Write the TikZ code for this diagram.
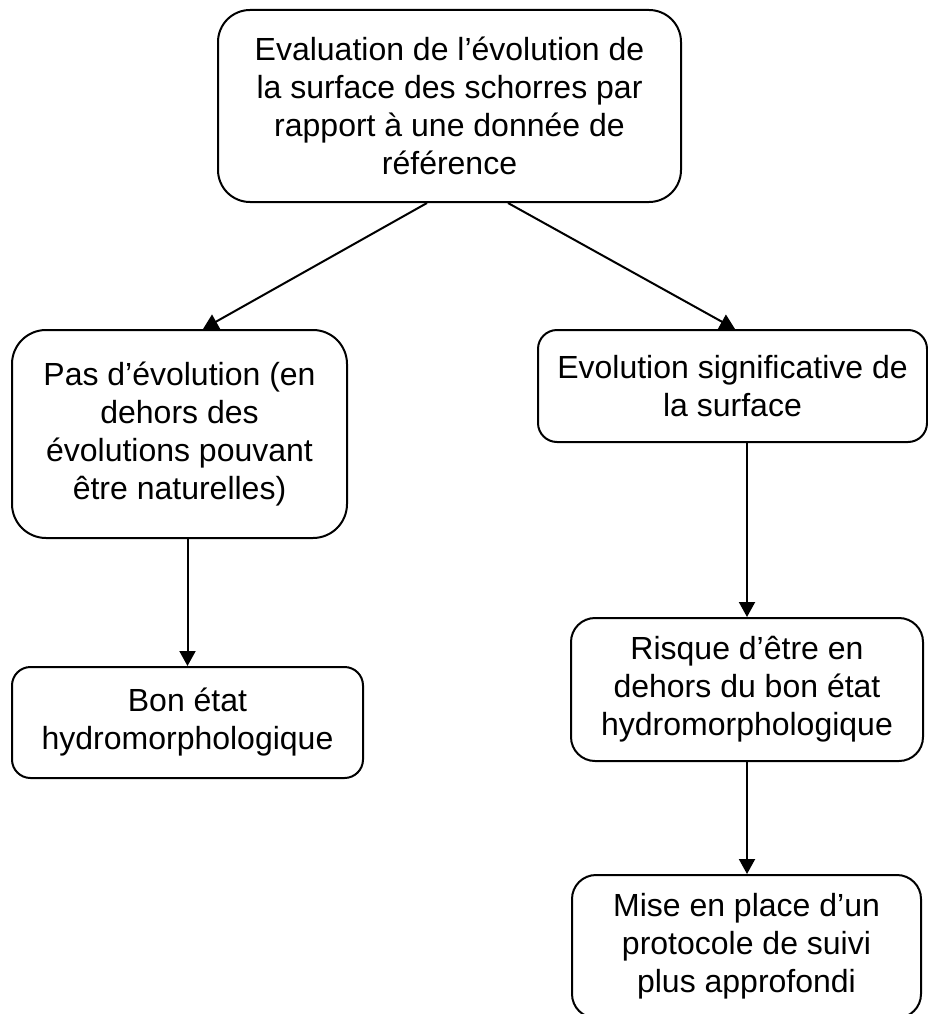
\documentclass[tikz,border=0pt]{standalone}
\usepackage{fontspec}
\setmainfont{Liberation Sans}
\usetikzlibrary{arrows.meta}
\begin{document}
\begin{tikzpicture}[x=1pt,y=-1pt,
  box/.style={draw=black, line width=2pt, fill=white, align=center, inner sep=0pt,
    font=\fontsize{32}{38}\selectfont},
  arr/.style={draw=black, line width=2pt, -{Triangle[length=15pt,width=16pt]}}]
\useasboundingbox (0,0) rectangle (928,1014);
\clip (0,0) rectangle (928,1014);
\node[box, minimum width=463pt, minimum height=192pt, rounded corners=32pt] (top) at (449.5,106)
  {Evaluation de l’évolution de\\la surface des schorres par\\rapport à une donnée de\\référence};
\node[box, minimum width=335pt, minimum height=208pt, rounded corners=34pt] (left) at (179.5,434)
  {Pas d’évolution (en\\dehors des\\évolutions pouvant\\être naturelles)};
\node[box, minimum width=389pt, minimum height=112pt, rounded corners=19pt] (right) at (732.5,386)
  {Evolution significative de\\la surface};
\node[box, minimum width=351pt, minimum height=111pt, rounded corners=18.5pt] (bon) at (187.5,722.5)
  {Bon état\\hydromorphologique};
\node[box, minimum width=352pt, minimum height=143pt, rounded corners=24pt] (risque) at (747,689.5)
  {Risque d’être en\\dehors du bon état\\hydromorphologique};
\node[box, minimum width=349pt, minimum height=143pt, rounded corners=24pt] (mise) at (746.5,946.5)
  {Mise en place d’un\\protocole de suivi\\plus approfondi};
\draw[arr] ([xshift=-22.5pt]top.south) -- ([xshift=23.5pt]left.north);
\draw[arr] ([xshift=58.5pt]top.south) -- ([xshift=2.5pt]right.north);
\draw[arr] (left.south -| bon.north) -- (bon.north);
\draw[arr] (right.south -| risque.north) -- (risque.north);
\draw[arr] (risque.south) -- (risque.south |- mise.north);
\end{tikzpicture}
\end{document}
